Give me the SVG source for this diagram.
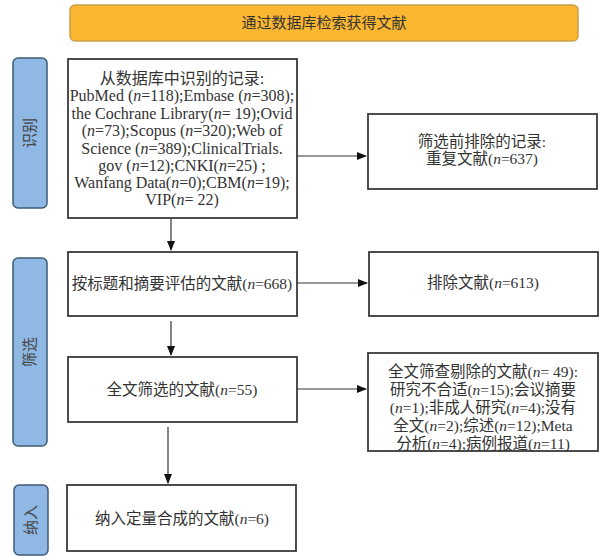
<svg xmlns="http://www.w3.org/2000/svg" width="603" height="556" viewBox="0 0 603 556">
<defs>
<marker id="ah" markerWidth="10" markerHeight="8" refX="9" refY="4" orient="auto" markerUnits="userSpaceOnUse">
<path d="M0,0 L10,4 L0,8 Z" fill="#111"/>
</marker>
<style>
.box{fill:#fff;stroke:#3a3a3a;stroke-width:1.8}
.tab{fill:#8fb8e4;stroke:#3f5b78;stroke-width:1.5}
.t{font-family:"Liberation Serif","Noto Sans CJK SC",serif;font-size:15.5px;fill:#333;text-anchor:middle}
.b1{font-size:16px}
.tt{font-family:"Liberation Serif","Noto Sans CJK SC",serif;font-size:15px;fill:#444;text-anchor:middle}
.i{font-style:italic}
.c{stroke:#333;stroke-width:1.2;fill:none}
</style>
</defs>
<rect width="603" height="556" fill="#fff"/>
<g id="banner">
<rect x="70" y="5" width="508" height="36" rx="5" fill="#fbb731" stroke="#c9a04a" stroke-width="1.5"/>
<text class="t" x="324" y="28" style="font-size:15px">通过数据库检索获得文献</text>
</g>
<g id="tab1">
<rect class="tab" x="13" y="58" width="34" height="150" rx="5"/>
<text class="tt" transform="translate(35,133) rotate(-90)">识别</text>
</g>
<g id="tab2">
<rect class="tab" x="13" y="258" width="34" height="188" rx="5"/>
<text class="tt" transform="translate(35,352) rotate(-90)">筛选</text>
</g>
<g id="tab3">
<rect class="tab" x="14" y="485" width="34" height="70" rx="5"/>
<text class="tt" transform="translate(36,520) rotate(-90)">纳入</text>
</g>
<g id="box1">
<rect class="box" x="68" y="59" width="229" height="159"/>
<text class="t b1" x="182" y="84">从数据库中识别的记录:</text>
<text class="t b1" x="182" y="101">PubMed (<tspan class="i">n</tspan>=118);Embase (<tspan class="i">n</tspan>=308);</text>
<text class="t b1" x="182" y="119">the Cochrane Library(<tspan class="i">n</tspan>= 19);Ovid</text>
<text class="t b1" x="182" y="136">(<tspan class="i">n</tspan>=73);Scopus (<tspan class="i">n</tspan>=320);Web of</text>
<text class="t b1" x="182" y="154">Science (<tspan class="i">n</tspan>=389);ClinicalTrials.</text>
<text class="t b1" x="182" y="171">gov (<tspan class="i">n</tspan>=12);CNKI(<tspan class="i">n</tspan>=25) ;</text>
<text class="t b1" x="182" y="188">Wanfang Data(<tspan class="i">n</tspan>=0);CBM(<tspan class="i">n</tspan>=19);</text>
<text class="t b1" x="182" y="205">VIP(<tspan class="i">n</tspan>= 22)</text>
</g>
<g id="box2">
<rect class="box" x="368" y="114" width="229" height="75"/>
<text class="t" x="482" y="147">筛选前排除的记录:</text>
<text class="t" x="482" y="164">重复文献(<tspan class="i">n</tspan>=637)</text>
</g>
<g id="box3">
<rect class="box" x="68" y="252" width="229" height="64"/>
<text class="t" x="182" y="289">按标题和摘要评估的文献(<tspan class="i">n</tspan>=668)</text>
</g>
<g id="box4">
<rect class="box" x="369" y="252" width="229" height="64"/>
<text class="t" x="483" y="288">排除文献(<tspan class="i">n</tspan>=613)</text>
</g>
<g id="box5">
<rect class="box" x="68" y="357" width="229" height="65"/>
<text class="t" x="182" y="395">全文筛选的文献(<tspan class="i">n</tspan>=55)</text>
</g>
<g id="box6">
<rect class="box" x="67" y="485" width="229" height="66"/>
<text class="t" x="182" y="524">纳入定量合成的文献(<tspan class="i">n</tspan>=6)</text>
</g>
<g id="box7">
<rect class="box" x="368" y="353" width="230" height="98"/>
<text class="t" x="483" y="377">全文筛查剔除的文献(<tspan class="i">n</tspan>= 49):</text>
<text class="t" x="483" y="395">研究不合适(<tspan class="i">n</tspan>=15);会议摘要</text>
<text class="t" x="483" y="413">(<tspan class="i">n</tspan>=1);非成人研究(<tspan class="i">n</tspan>=4);没有</text>
<text class="t" x="483" y="431">全文(<tspan class="i">n</tspan>=2);综述(<tspan class="i">n</tspan>=12);Meta</text>
<text class="t" x="483" y="449">分析(<tspan class="i">n</tspan>=4);病例报道(<tspan class="i">n</tspan>=11)</text>
</g>
<g id="connectors">
<line class="c" x1="297" y1="156" x2="366" y2="156" marker-end="url(#ah)"/>
<line class="c" x1="171" y1="218" x2="171" y2="250" marker-end="url(#ah)"/>
<line class="c" x1="297" y1="283" x2="367" y2="283" marker-end="url(#ah)"/>
<line class="c" x1="171" y1="321" x2="171" y2="355" marker-end="url(#ah)"/>
<line class="c" x1="297" y1="389" x2="366" y2="389" marker-end="url(#ah)"/>
<line class="c" x1="168" y1="427" x2="168" y2="483" marker-end="url(#ah)"/>
</g>
</svg>
